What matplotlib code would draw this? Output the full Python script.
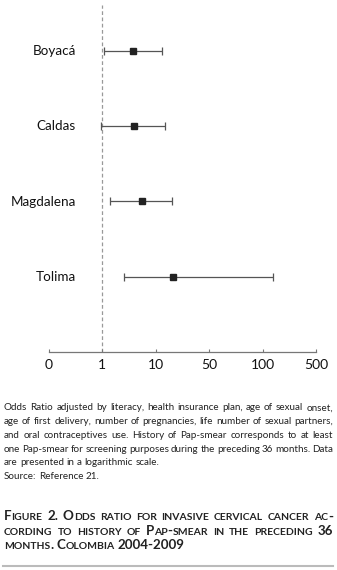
import numpy as np
import matplotlib
matplotlib.use("Agg")
import matplotlib.pyplot as plt

plt.rcParams['font.family'] = ['Lato', 'DejaVu Sans']

# data
regions = ['Boyacá', 'Caldas', 'Magdalena', 'Tolima']
odds_ratio = [3.7, 3.9, 5.4, 16.6]
ci_low = [1.07, 0.98, 1.41, 2.57]
ci_high = [12.1, 13.1, 16.5, 136.0]
tick_vals = [0, 1, 10, 50, 100, 500]

caption = [
    "Odds Ratio adjusted by literacy, health insurance plan, age of sexual onset,",
    "age of first delivery, number of pregnancies, life number of sexual partners,",
    "and oral contraceptives use. History of Pap-smear corresponds to at least",
    "one Pap-smear for screening purposes during the preceding 36 months. Data",
    "are presented in a logarithmic scale.",
    "Source: Reference 21.",
]
title = [
    "Figure 2. Odds ratio for invasive cervical cancer ac-",
    "cording to history of Pap-smear in the preceding 36",
    "months. Colombia 2004-2009",
]

W, H = 337, 570
fig = plt.figure(figsize=(W / 100, H / 100), dpi=100)

# evenly spaced ticks, log-like between them
tv = np.array(tick_vals, float)
tidx = np.arange(len(tv), dtype=float)
ltv = np.log10(tv[1:])


def fwd(v):
    v = np.asarray(v, float)
    lv = np.log10(np.clip(v, 1e-9, None))
    return np.where(v < 1, v, np.interp(lv, ltv, tidx[1:]))


def inv(i):
    i = np.asarray(i, float)
    return np.where(i < 1, i, 10 ** np.interp(i, tidx[1:], ltv))


ax_left, ax_right, ax_bottom = 49, 316, 352
ax = fig.add_axes([ax_left / W, 1 - ax_bottom / H, (ax_right - ax_left) / W, ax_bottom / H])
ax.set_xscale('function', functions=(fwd, inv))
ax.set_xlim(0, 500)
ax.set_ylim(4.0, -0.67)

y = np.arange(len(regions))
ax.axvline(1, ymin=0, ymax=0.986, color='#999999', lw=0.9, ls=(0, (3, 2)), zorder=1)

err = [np.array(odds_ratio) - np.array(ci_low), np.array(ci_high) - np.array(odds_ratio)]
ax.errorbar(odds_ratio, y, xerr=err, fmt='s', color='#222222', ecolor='#555555',
            elinewidth=0.9, capsize=2.9, capthick=0.9, markersize=4.8, zorder=3)

for s in ['top', 'right', 'left']:
    ax.spines[s].set_visible(False)
ax.spines['bottom'].set_color('#777777')
ax.spines['bottom'].set_linewidth(0.9)
ax.set_yticks([])
ax.set_xticks(tick_vals)
ax.set_xticklabels([str(t) for t in tick_vals])
ax.tick_params(axis='x', direction='in', length=2.5, width=0.8, color='#777777',
               labelsize=10, pad=5, labelcolor='#111111')
ax.xaxis.set_minor_locator(matplotlib.ticker.NullLocator())

for yi, name in zip(y, regions):
    fig.text(76 / W, 1 - (51 + 75.3 * yi) / H, name, ha='right', va='center',
             fontsize=9.7, color='#111111')

renderer = fig.canvas.get_renderer()
X0, X1 = 4, 333


def text_width(s, size, weight='normal'):
    t = fig.text(0, 0, s, fontsize=size, fontweight=weight)
    w = t.get_window_extent(renderer=renderer).width
    t.remove()
    return w


def word_pieces(word, size, smallcaps):
    if not smallcaps:
        return [(word, size)]
    out = []
    for ch in word:
        sz = size * 0.78 if ch.islower() else size
        ch = ch.upper()
        if out and out[-1][1] == sz:
            out[-1] = (out[-1][0] + ch, sz)
        else:
            out.append((ch, sz))
    return out


def draw_line(line, ypix, size, weight='normal', smallcaps=False, justify=True):
    # draw every piece, then place the words so the line is justified
    words = []
    for wd in line.split(' '):
        texts = []
        for txt, sz in word_pieces(wd, size, smallcaps):
            texts.append(fig.text(0, 1 - ypix / H, txt, fontsize=sz, fontweight=weight,
                                  ha='left', va='baseline', color='#222222'))
        words.append(texts)
    widths = [[t.get_window_extent(renderer=renderer).width for t in ts] for ts in words]
    totals = [sum(w) for w in widths]
    space = text_width('a a', size, weight) - text_width('aa', size, weight)
    if justify and len(words) > 1:
        gap = (X1 - X0 - sum(totals)) / (len(words) - 1)
    else:
        gap = space
    x = X0
    for ts, ws in zip(words, widths):
        xx = x
        for t, w in zip(ts, ws):
            t.set_x(xx / W)
            xx += w
        x += sum(ws) + gap


# caption size: words of each justified line plus tight gaps must fit
cap_size = 8.0
fits = []
for l in caption[:4]:
    wds = l.split(' ')
    ww = sum(text_width(w, cap_size) for w in wds)
    fits.append((X1 - X0 - 2.0 * (len(wds) - 1)) / ww)
cap_size = cap_size * min(fits)

cap_y0, cap_dy = 410.5, 13.7
for i, line in enumerate(caption):
    draw_line(line, cap_y0 + i * cap_dy, cap_size, justify=(i < 4))

tit_y0, tit_dy = 520.5, 14.4
for i, line in enumerate(title):
    draw_line(line, tit_y0 + i * tit_dy, 9.6, weight='bold', smallcaps=True,
              justify=(i < 2))

fig.add_artist(matplotlib.lines.Line2D([3 / W, 333 / W], [1 - 566 / H, 1 - 566 / H],
                                       color='#bbbbbb', lw=1.5))

fig.savefig('out.png', dpi=100)
